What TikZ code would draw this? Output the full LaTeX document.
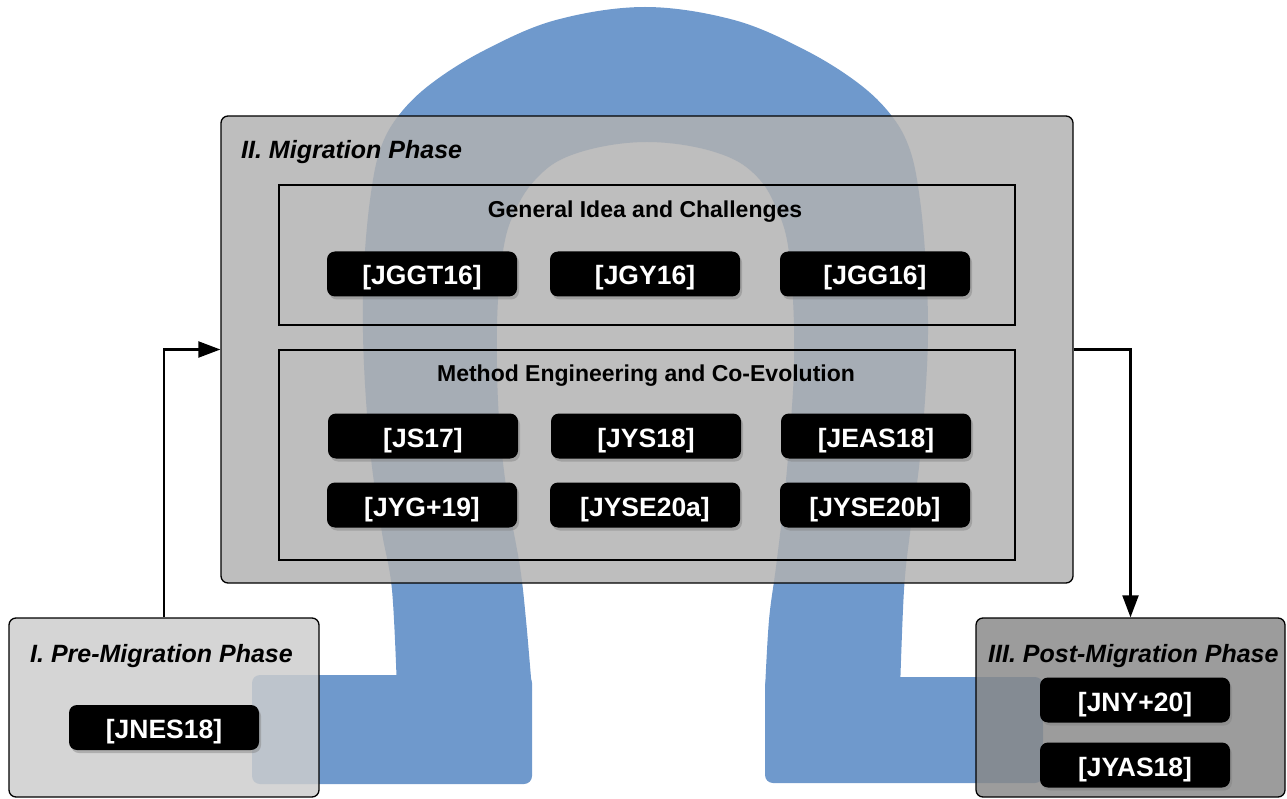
\documentclass[tikz,border=0pt]{standalone}
\usepackage{fontspec}
\setmainfont{Liberation Sans}
\usetikzlibrary{arrows.meta,shadows}
\definecolor{omegablue}{RGB}{111,153,204}
\definecolor{premid}{RGB}{205,205,205}
\definecolor{migmid}{RGB}{177,177,177}
\definecolor{postmid}{RGB}{137,137,137}
\begin{document}
\begin{tikzpicture}[x=1pt,y=-1pt,
  phasebox/.style={draw=black, line width=1.3pt, rounded corners=7pt,
    fill opacity=0.84, inner sep=0pt},
  secbox/.style={draw=black, line width=2pt, inner sep=0pt,
    minimum width=736pt},
  citebox/.style={fill=black, rounded corners=8pt, minimum width=190pt,
    minimum height=45pt, inner sep=0pt, text=white,
    text height=22pt, text depth=0pt,
    font=\fontsize{26.5}{30}\selectfont\bfseries,
    drop shadow={shadow xshift=2pt, shadow yshift=-3pt, opacity=0.45}},
  phasetitle/.style={anchor=west, inner sep=0pt,
    font=\fontsize{25}{30}\selectfont\bfseries\itshape},
  sectitle/.style={inner sep=0pt, font=\fontsize{23}{28}\selectfont\bfseries},
  flow/.style={line width=2.2pt, -{Triangle[length=22pt,width=16pt]}}
]
\useasboundingbox (0,0) rectangle (1287,799);

% the large omega behind the phases
\fill[omegablue] plot[smooth, tension=0.6] coordinates {
  (397,690) (392,590) (382,533) (372,467) (366,400) (363,333) (364,267)
  (370,200) (380,150) (399,115) (432,83) (485,50) (556,20) (645,7)
  (734,20) (805,50) (858,83) (891,115) (910,150) (920,200) (926,267)
  (928,333) (925,400) (919,467) (910,533) (904,590) (900,690)}
  -- plot[smooth, tension=0.6] coordinates {
  (765,690) (769,620) (776,567) (784,500) (790,433) (794,367) (793,300)
  (787,240) (775,205) (760,180) (735,160) (695,147) (647,142) (600,147)
  (560,160) (535,180) (518,205) (505,240) (498,300) (497,367) (500,433)
  (508,500) (520,567) (526,620) (532,690)} -- cycle;
\fill[omegablue, rounded corners=8pt] (252,675) rectangle (532,784);
\fill[omegablue, rounded corners=8pt] (765,677) rectangle (1043,783);

% phase II
\node[phasebox, fill=migmid, minimum width=852pt, minimum height=467pt]
  (mig) at (647,349.5) {};
\node[phasetitle] (migt) at (241,152.5) {II. Migration Phase};

\node[secbox, minimum height=140pt] (gen) at (647,255) {};
\node[sectitle] (gent) at (645,211.5) {General Idea and Challenges};
\node[citebox] (c1) at (422,274) {[JGGT16]};
\node[citebox] (c2) at (645,274) {[JGY16]};
\node[citebox] (c3) at (875,274) {[JGG16]};

\node[secbox, minimum height=210pt] (meth) at (647,455) {};
\node[sectitle] (metht) at (646,375.5) {Method Engineering and Co-Evolution};
\node[citebox] (c4) at (423,436) {[JS17]};
\node[citebox] (c5) at (646,436) {[JYS18]};
\node[citebox] (c6) at (876,436) {[JEAS18]};
\node[citebox] (c7) at (422,505) {[JYG+19]};
\node[citebox] (c8) at (645,505) {[JYSE20a]};
\node[citebox] (c9) at (875,505) {[JYSE20b]};

% phase I
\node[phasebox, fill=premid, minimum width=310pt, minimum height=179pt]
  (pre) at (164,707.5) {};
\node[phasetitle] (pret) at (30,656.5) {I. Pre-Migration Phase};
\node[citebox] (c10) at (164,727.5) {[JNES18]};

% phase III
\node[phasebox, fill=postmid, minimum width=309pt, minimum height=179pt]
  (post) at (1130.5,707.5) {};
\node[phasetitle] (postt) at (988,656.5) {III. Post-Migration Phase};
\node[citebox] (c11) at (1135,700) {[JNY+20]};
\node[citebox] (c12) at (1135,765) {[JYAS18]};

% flow between the phases
\draw[flow] (pre.north) |- (mig.west);
\draw[flow] (mig.east) -| (post.north);
\end{tikzpicture}
\end{document}
